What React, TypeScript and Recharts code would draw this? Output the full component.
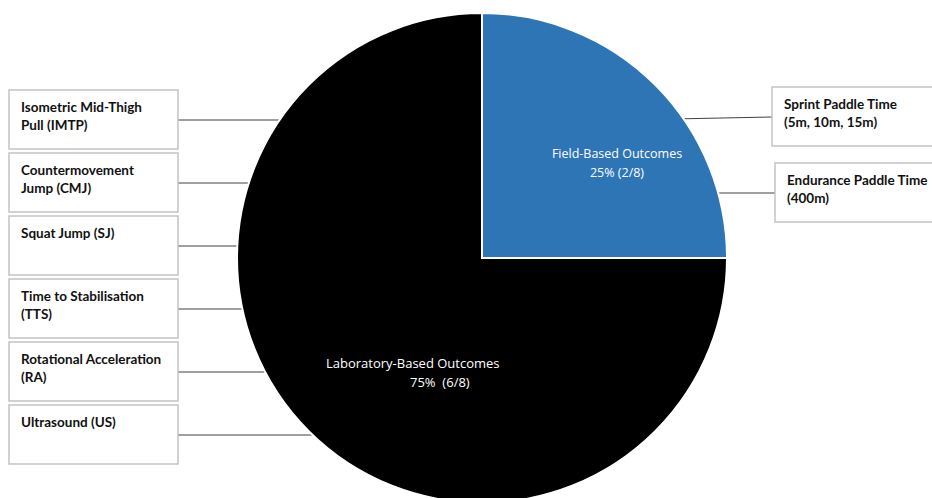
import { PieChart, Pie, Cell, Customized } from 'recharts'

const categories = ['Field-Based Outcomes', 'Laboratory-Based Outcomes']
const counts = [2, 6]
const shareLabels = ['25% (2/8)', '75%  (6/8)']
const sliceColors = ['#2e75b6', '#000000']

const labMeasures = [
  ['Isometric Mid-Thigh', 'Pull (IMTP)'],
  ['Countermovement', 'Jump (CMJ)'],
  ['Squat Jump (SJ)'],
  ['Time to Stabilisation', '(TTS)'],
  ['Rotational Acceleration', '(RA)'],
  ['Ultrasound (US)'],
]
const fieldMeasures = [
  ['Sprint Paddle Time', '(5m, 10m, 15m)'],
  ['Endurance Paddle Time', '(400m)'],
]

const pieData = categories.map((name, i) => ({ name, value: counts[i], share: shareLabels[i] }))

// layout
const W = 932
const H = 498
const CX = 482
const CY = 258
const R = 245
const BOX_H = 59
const LEFT_X = 9
const LEFT_W = 169
const LEFT_TOP = 90
const LEFT_STEP = 63
const RIGHT_X = [772, 775]
const RIGHT_TOP = [87, 163]
const RIGHT_W = 170
const boxFont = { fontFamily: 'Lato, sans-serif', fontSize: 13.5, fontWeight: 700, fill: '#111111' }

// per slice: [dx, dy, anchor, fontSize] for each text line, relative to the pie centre
const labelLayout: [number, number, string, number][][] = [
  [[135, -105, 'middle', 12.5], [135, -86, 'middle', 12.5]],
  [[-156, 105, 'start', 13], [-72, 124, 'start', 13]],
]

function renderSliceLabel(props: any) {
  const { cx, cy, index, payload } = props
  const lines = [payload.name, payload.share]
  return (
    <g key={`lbl-${index}`}>
      {lines.map((t: string, j: number) => {
        const [dx, dy, anchor, fs] = labelLayout[index][j]
        return (
          <text
            key={j}
            x={cx + dx}
            y={cy + dy}
            textAnchor={anchor as any}
            dominantBaseline="central"
            fill="#ffffff"
            style={{ fontFamily: '"Open Sans", sans-serif', fontSize: fs, whiteSpace: 'pre' }}
          >
            {t}
          </text>
        )
      })}
    </g>
  )
}

function Box({ x, y, w, lines }: { x: number; y: number; w: number; lines: string[] }) {
  return (
    <g>
      <rect x={x} y={y} width={w} height={BOX_H} fill="#ffffff" stroke="#c3c3c3" strokeWidth={1.5} />
      {lines.map((t, j) => (
        <text key={j} x={x + 12} y={y + 17 + j * 18} dominantBaseline="central" style={boxFont}>
          {t}
        </text>
      ))}
    </g>
  )
}

function Annotations() {
  return (
    <g>
      {labMeasures.map((lines, i) => {
        const top = LEFT_TOP + i * LEFT_STEP
        const ly = top + 30
        const edge = CX - Math.sqrt(R * R - (ly - CY) * (ly - CY))
        return (
          <g key={`l-${i}`}>
            <line x1={LEFT_X + LEFT_W} y1={ly} x2={edge} y2={ly} stroke="#404040" strokeWidth={1} />
            <Box x={LEFT_X} y={top} w={LEFT_W} lines={lines} />
          </g>
        )
      })}
      {fieldMeasures.map((lines, i) => {
        const top = RIGHT_TOP[i]
        const ly = top + 30
        const edge = CX + Math.sqrt(R * R - (ly - CY) * (ly - CY))
        return (
          <g key={`r-${i}`}>
            <line x1={RIGHT_X[i]} y1={ly} x2={edge - 10} y2={ly + (i === 0 ? 2 : 0)} stroke="#404040" strokeWidth={1} />
            <Box x={RIGHT_X[i]} y={top} w={RIGHT_W} lines={lines} />
          </g>
        )
      })}
    </g>
  )
}

export default function App() {
  return (
    <div style={{ position: 'absolute', left: 0, top: 0, width: W, height: H, background: '#ffffff' }}>
      <PieChart width={W} height={H} margin={{ top: 0, right: 0, bottom: 0, left: 0 }}>
        <Pie
          data={pieData}
          dataKey="value"
          nameKey="name"
          cx={CX}
          cy={CY}
          outerRadius={R}
          startAngle={90}
          endAngle={-270}
          stroke="#ffffff"
          strokeWidth={2}
          label={renderSliceLabel}
          labelLine={false}
          isAnimationActive={false}
        >
          {pieData.map((d, i) => (
            <Cell key={d.name} fill={sliceColors[i]} />
          ))}
        </Pie>
        <Customized component={Annotations} />
      </PieChart>
    </div>
  )
}
